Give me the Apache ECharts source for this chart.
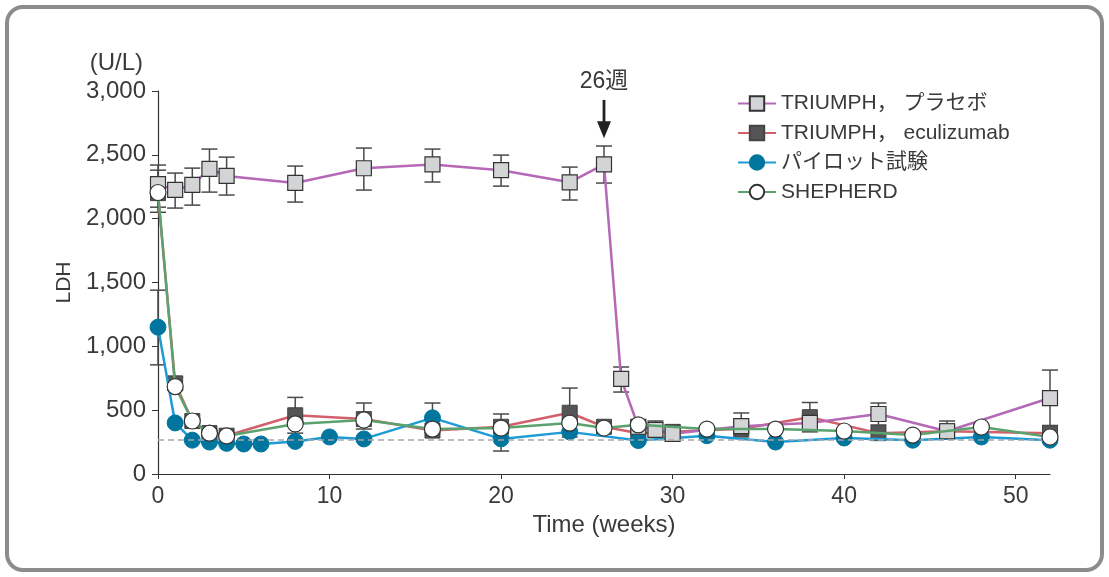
<!DOCTYPE html>
<html>
<head>
<meta charset="utf-8">
<script src="https://cdn.jsdelivr.net/npm/echarts@6/dist/echarts.min.js"></script>
<style>
  html, body { margin: 0; padding: 0; background: #fff; }
  #wrap { position: relative; width: 1109px; height: 577px; }
  #frame {
    position: absolute; left: 5px; top: 5px; width: 1091px; height: 559px;
    border: 4px solid #8c8c8c; border-radius: 18px;
  }
  #chart { position: absolute; left: 0; top: 0; width: 1109px; height: 577px; }
</style>
</head>
<body>
<div id="wrap">
  <div id="frame"></div>
  <div id="chart"></div>
</div>
<script>
// データ（週, LDH U/L）
const placeboWeeks = [0, 1, 2, 3, 4, 8, 12, 16, 20, 24, 26, 27, 28, 29, 30, 34, 38, 42, 46, 52];
const placeboLDH   = [2270, 2225, 2265, 2390, 2335, 2280, 2395, 2425, 2380, 2285, 2425, 745, 370, 345, 315, 375, 400, 470, 335, 595];

const ecuWeeks = [0, 1, 2, 3, 4, 8, 12, 16, 20, 24, 26, 28, 30, 34, 38, 42, 46, 52];
const ecuLDH   = [2200, 710, 415, 320, 300, 460, 430, 340, 370, 480, 370, 320, 330, 355, 445, 320, 335, 320];

const pilotWeeks = [0, 1, 2, 3, 4, 5, 6, 8, 10, 12, 16, 20, 24, 28, 32, 36, 40, 44, 48, 52];
const pilotLDH   = [1150, 400, 265, 250, 240, 235, 235, 255, 290, 275, 440, 275, 330, 262, 300, 250, 282, 265, 290, 265];

const shepherdWeeks = [0, 1, 2, 3, 4, 8, 12, 16, 20, 24, 26, 28, 32, 36, 40, 44, 48, 52];
const shepherdLDH   = [2205, 685, 415, 320, 298, 392, 423, 352, 360, 399, 360, 385, 352, 352, 337, 305, 368, 290];

// エラーバー（週, 下限, 上限）
const placeboErrWeeks = [0, 1, 2, 3, 4, 8, 12, 16, 20, 24, 26, 27, 29, 30, 34, 42, 46, 52];
const placeboErrLow   = [2090, 2083, 2106, 2208, 2185, 2130, 2224, 2287, 2255, 2146, 2279, 642, 300, 290, 290, 384, 300, 380];
const placeboErrHigh  = [2420, 2357, 2396, 2545, 2482, 2412, 2553, 2545, 2498, 2404, 2569, 838, 415, 384, 478, 556, 415, 814];

const ecuErrWeeks = [0, 1, 8, 12, 24, 38];
const ecuErrLow   = [2050, 660, 320, 352, 290, 330];
const ecuErrHigh  = [2380, 760, 600, 556, 673, 560];

const pilotErrWeeks = [0, 16, 20];
const pilotErrLow   = [855, 322, 180];
const pilotErrHigh  = [1440, 556, 470];

const normalLimit = 265;
const yTicks = [0, 500, 1000, 1500, 2000, 2500, 3000];
const xTicks = [0, 10, 20, 30, 40, 50];
const markWeek = 26;

const FONT = "'Liberation Sans', 'Noto Sans CJK JP', sans-serif";
const TEXT = '#3a3a3a';

const zip = (xs, ys) => xs.map((x, i) => [x, ys[i]]);
const zip3 = (xs, lo, hi) => xs.map((x, i) => [x, lo[i], hi[i]]);

function errorSeries(data, z) {
  return {
    type: 'custom',
    data: data,
    z: z,
    silent: true,
    renderItem(params, api) {
      const x = api.value(0);
      const lo = api.coord([x, api.value(1)]);
      const hi = api.coord([x, api.value(2)]);
      const w = 8;
      const style = { stroke: '#4a4a4a', lineWidth: 1.5 };
      return {
        type: 'group',
        children: [
          { type: 'line', shape: { x1: lo[0], y1: lo[1], x2: hi[0], y2: hi[1] }, style },
          { type: 'line', shape: { x1: lo[0] - w, y1: lo[1], x2: lo[0] + w, y2: lo[1] }, style },
          { type: 'line', shape: { x1: hi[0] - w, y1: hi[1], x2: hi[0] + w, y2: hi[1] }, style }
        ]
      };
    }
  };
}

const chart = echarts.init(document.getElementById('chart'));

const option = {
  animation: false,
  textStyle: { fontFamily: FONT, color: TEXT },
  grid: { left: 158, right: 59, top: 91, bottom: 103 },
  legend: {
    orient: 'vertical',
    left: 732,
    top: 88,
    itemWidth: 38,
    itemHeight: 18,
    itemGap: 8.5,
    textStyle: { fontFamily: FONT, fontSize: 21, lineHeight: 20, color: TEXT },
    formatter: name => name.replace('，', '， '),
    data: ['TRIUMPH，プラセボ', 'TRIUMPH，eculizumab', 'パイロット試験', 'SHEPHERD']
  },
  xAxis: {
    type: 'value',
    min: 0,
    max: 52,
    interval: 10,
    name: 'Time (weeks)',
    nameLocation: 'middle',
    nameGap: 34,
    nameTextStyle: { fontSize: 24, color: TEXT, fontFamily: FONT },
    splitLine: { show: false },
    axisLine: { lineStyle: { color: '#333', width: 1.2 } },
    axisTick: { customValues: xTicks, length: 5, lineStyle: { color: '#333' } },
    axisLabel: { customValues: xTicks, fontSize: 23, color: TEXT, margin: 11 }
  },
  yAxis: {
    type: 'value',
    min: 0,
    max: 3000,
    interval: 500,
    name: 'LDH',
    nameLocation: 'middle',
    nameGap: 77,
    nameTextStyle: { fontSize: 21, color: TEXT, fontFamily: FONT },
    splitLine: { show: false },
    axisLine: { show: true, lineStyle: { color: '#333', width: 1.2 } },
    axisTick: { show: true, customValues: yTicks, length: 6, lineStyle: { color: '#333' } },
    axisLabel: {
      customValues: yTicks,
      fontSize: 24,
      color: TEXT,
      margin: 12,
      formatter: v => v.toLocaleString('en-US')
    }
  },
  series: [
    {
      name: 'TRIUMPH，プラセボ',
      type: 'line',
      z: 4,
      data: zip(placeboWeeks, placeboLDH),
      symbol: 'rect',
      symbolSize: 15,
      lineStyle: { color: '#b468b6', width: 2.5 },
      itemStyle: { color: '#d3d4d6', borderColor: '#333', borderWidth: 1.2 }
    },
    {
      name: 'TRIUMPH，eculizumab',
      type: 'line',
      z: 2,
      data: zip(ecuWeeks, ecuLDH),
      symbol: 'rect',
      symbolSize: 15,
      lineStyle: { color: '#d1606c', width: 2.5 },
      itemStyle: { color: '#555557', borderColor: '#444', borderWidth: 1 },
      markLine: {
        silent: true,
        symbol: 'none',
        label: { show: false },
        lineStyle: { color: '#a8a8a8', type: [6, 4], width: 1.5 },
        data: [{ yAxis: normalLimit }]
      }
    },
    {
      name: 'パイロット試験',
      type: 'line',
      z: 3,
      data: zip(pilotWeeks, pilotLDH),
      symbol: 'circle',
      symbolSize: 16,
      lineStyle: { color: '#1d9bd6', width: 2.5 },
      itemStyle: { color: '#00759e', borderColor: '#00759e', borderWidth: 1 }
    },
    {
      name: 'SHEPHERD',
      type: 'line',
      z: 5,
      data: zip(shepherdWeeks, shepherdLDH),
      symbol: 'circle',
      symbolSize: 16,
      lineStyle: { color: '#5ba26f', width: 2.5 },
      itemStyle: { color: '#ffffff', borderColor: '#333', borderWidth: 1.2 }
    },
    errorSeries(zip3(placeboErrWeeks, placeboErrLow, placeboErrHigh), 1),
    errorSeries(zip3(ecuErrWeeks, ecuErrLow, ecuErrHigh), 1),
    errorSeries(zip3(pilotErrWeeks, pilotErrLow, pilotErrHigh), 1)
  ]
};

chart.setOption(option);

// 注釈（26週の矢印・単位）
const arrowStart = chart.convertToPixel({ gridIndex: 0 }, [markWeek, 2930]);
const arrowTip = chart.convertToPixel({ gridIndex: 0 }, [markWeek, 2630]);
const axisTop = chart.convertToPixel({ gridIndex: 0 }, [0, 3000]);

chart.setOption({
  graphic: [
    {
      type: 'text',
      x: arrowStart[0], y: arrowStart[1] - 18,
      style: { text: '26週', font: `23px ${FONT}`, fill: TEXT, align: 'center', verticalAlign: 'middle' }
    },
    {
      type: 'line',
      shape: { x1: arrowStart[0], y1: arrowStart[1], x2: arrowTip[0], y2: arrowTip[1] - 12 },
      style: { stroke: '#222', lineWidth: 2.8 }
    },
    {
      type: 'polygon',
      shape: { points: [[arrowTip[0] - 7, arrowTip[1] - 17], [arrowTip[0] + 7, arrowTip[1] - 17], [arrowTip[0], arrowTip[1]]] },
      style: { fill: '#222' }
    },
    {
      type: 'text',
      x: axisTop[0] - 15, y: axisTop[1] - 28,
      style: { text: '(U/L)', font: `24px ${FONT}`, fill: TEXT, align: 'right', verticalAlign: 'middle' }
    }
  ]
});
</script>
</body>
</html>
